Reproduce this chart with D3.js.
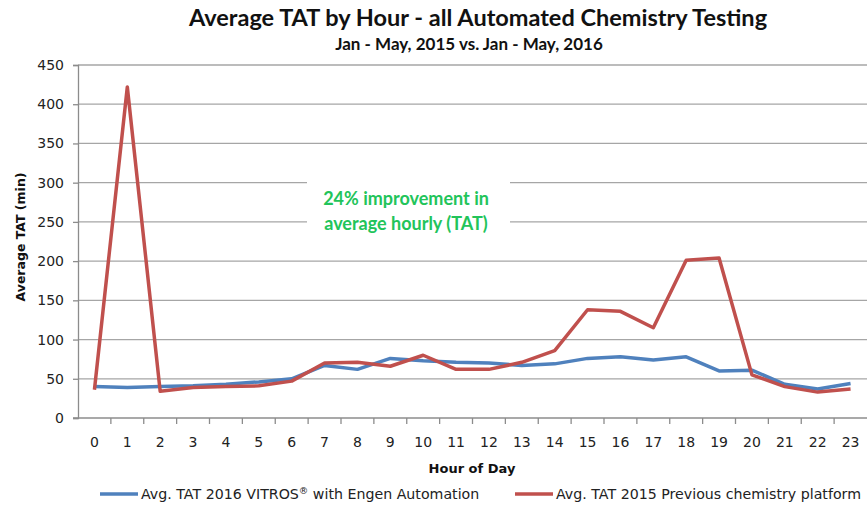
<!DOCTYPE html>
<html>
<head>
<meta charset="utf-8">
<script src="https://cdn.jsdelivr.net/npm/d3@7"></script>
<style>
  body { margin: 0; background: #fff; }
  svg { display: block; }
</style>
</head>
<body>
<svg id="chart" width="867" height="507"></svg>
<script>
// hours 0..23
var hours = d3.range(0, 24).map(String)
var tat2016 = [40, 39, 40, 41, 43, 46, 50, 67, 62, 76, 73, 71, 70, 67, 69, 76, 78, 74, 78, 60, 61, 43, 37, 44]
var tat2015 = [36, 422, 34, 39, 40, 41, 47, 70, 71, 66, 80, 62, 62, 71, 86, 138, 136, 115, 201, 204, 55, 40, 33, 37]
var yTicks = [0, 50, 100, 150, 200, 250, 300, 350, 400, 450]
var seriesNames = ['Avg. TAT 2016 VITROS', 'Avg. TAT 2015 Previous chemistry platform']

var svg = d3.select('#chart')
var plotLeft = 78, plotRight = 867, plotTop = 65, plotBottom = 418

var x = d3.scaleBand().domain(hours).range([plotLeft, plotRight])
var y = d3.scaleLinear().domain([0, 450]).range([plotBottom, plotTop])

var titleFont = 'Lato, "Open Sans", sans-serif'
var axisFont = '"DejaVu Sans", Verdana, sans-serif'

// gridlines
svg.append('g')
	.selectAll('line')
	.data(yTicks.filter(d => d > 0))
	.join('line')
	.attr('x1', plotLeft)
	.attr('x2', plotRight)
	.attr('y1', d => y(d))
	.attr('y2', d => y(d))
	.attr('stroke', '#a6a6a6')
	.attr('stroke-width', 1.3)

// y axis
var yAxis = svg.append('g')
	.attr('transform', `translate(${plotLeft},0)`)
	.call(d3.axisLeft(y).tickValues(yTicks).tickSize(5).tickPadding(9))
yAxis.select('.domain').attr('stroke', '#8c8c8c').attr('stroke-width', 1.3)
yAxis.selectAll('.tick line').attr('stroke', '#8c8c8c').attr('stroke-width', 1.3)
yAxis.selectAll('text')
	.attr('font-family', axisFont)
	.attr('font-size', 14)
	.attr('fill', '#222')

// x axis - ticks between categories
var xAxis = svg.append('g')
	.attr('transform', `translate(0,${plotBottom})`)
xAxis.append('line')
	.attr('x1', plotLeft - 5)
	.attr('x2', plotRight)
	.attr('stroke', '#8c8c8c')
	.attr('stroke-width', 1.3)
xAxis.selectAll('line.tk')
	.data(hours.slice(1))
	.join('line')
	.attr('class', 'tk')
	.attr('x1', d => x(d))
	.attr('x2', d => x(d))
	.attr('y1', 0)
	.attr('y2', 6)
	.attr('stroke', '#8c8c8c')
	.attr('stroke-width', 1.3)
xAxis.selectAll('text')
	.data(hours)
	.join('text')
	.attr('x', d => x(d) + x.bandwidth() / 2)
	.attr('y', 29)
	.attr('text-anchor', 'middle')
	.attr('font-family', axisFont)
	.attr('font-size', 14)
	.attr('fill', '#222')
	.text(d => d)

// annotation box covering gridlines
svg.append('rect')
	.attr('x', 307)
	.attr('y', 176)
	.attr('width', 203)
	.attr('height', 56)
	.attr('fill', '#fff')

var note = svg.append('text')
	.attr('text-anchor', 'middle')
	.attr('font-family', titleFont)
	.attr('font-weight', 'bold')
	.attr('font-size', 18)
	.attr('fill', '#22c45a')
note.append('tspan').attr('x', 406).attr('y', 205).text('24% improvement in')
note.append('tspan').attr('x', 406).attr('y', 230).text('average hourly (TAT)')

// lines
var line = d3.line()
	.x((d, i) => x(hours[i]) + x.bandwidth() / 2)
	.y(d => y(d))

svg.append('path')
	.datum(tat2016)
	.attr('d', line)
	.attr('fill', 'none')
	.attr('stroke', '#4f81bd')
	.attr('stroke-width', 3.5)
	.attr('stroke-linejoin', 'round')

svg.append('path')
	.datum(tat2015)
	.attr('d', line)
	.attr('fill', 'none')
	.attr('stroke', '#c0504d')
	.attr('stroke-width', 3.5)
	.attr('stroke-linejoin', 'round')

// titles
svg.append('text')
	.attr('x', 478)
	.attr('y', 26)
	.attr('text-anchor', 'middle')
	.attr('font-family', titleFont)
	.attr('font-weight', 'bold')
	.attr('font-size', 23.5)
	.attr('fill', '#111')
	.text('Average TAT by Hour - all Automated Chemistry Testing')

svg.append('text')
	.attr('x', 469)
	.attr('y', 50)
	.attr('text-anchor', 'middle')
	.attr('font-family', titleFont)
	.attr('font-weight', 'bold')
	.attr('font-size', 17)
	.attr('fill', '#111')
	.text('Jan - May, 2015 vs. Jan - May, 2016')

svg.append('text')
	.attr('transform', 'translate(25,237) rotate(-90)')
	.attr('text-anchor', 'middle')
	.attr('font-family', axisFont)
	.attr('font-weight', 'bold')
	.attr('font-size', 12.5)
	.attr('fill', '#111')
	.text('Average TAT  (min)')

svg.append('text')
	.attr('x', 472)
	.attr('y', 473)
	.attr('text-anchor', 'middle')
	.attr('font-family', axisFont)
	.attr('font-weight', 'bold')
	.attr('font-size', 13)
	.attr('fill', '#111')
	.text('Hour of Day')

// legend
var legend = [
	{ name: seriesNames[0], color: '#4f81bd', x: 100, sup: '\u00ae', rest: '  with Engen Automation' },
	{ name: seriesNames[1], color: '#c0504d', x: 515, sup: '', rest: '' }
]
legend.forEach(l => {
	svg.append('line')
		.attr('x1', l.x)
		.attr('x2', l.x + 38)
		.attr('y1', 494)
		.attr('y2', 494)
		.attr('stroke', l.color)
		.attr('stroke-width', 3.5)
	var t = svg.append('text')
		.attr('x', l.x + 41)
		.attr('y', 499)
		.attr('font-family', axisFont)
		.attr('font-size', 14.2)
		.attr('fill', '#222')
	t.append('tspan').text(l.name)
	if (l.sup) {
		t.append('tspan').attr('dy', -5).attr('font-size', 9.5).text(l.sup)
		t.append('tspan').attr('dy', 5).text(l.rest)
	}
})
</script>
</body>
</html>
